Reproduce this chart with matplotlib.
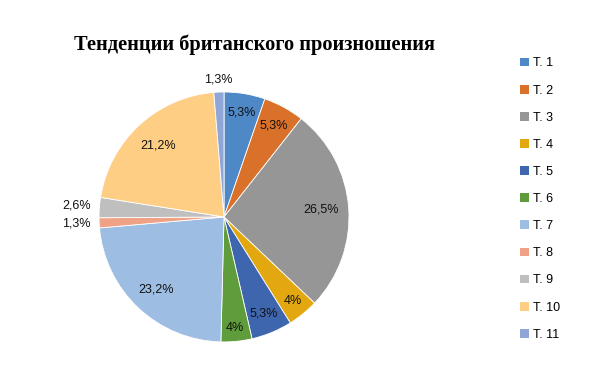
import numpy as np
import matplotlib
matplotlib.use("Agg")
import matplotlib.pyplot as plt
from matplotlib.patches import Patch

title = "Тенденции британского произношения"
labels = ["T. 1", "T. 2", "T. 3", "T. 4", "T. 5", "T. 6", "T. 7", "T. 8", "T. 9", "T. 10", "T. 11"]
shares = [5.3, 5.3, 26.5, 4, 5.3, 4, 23.2, 1.3, 2.6, 21.2, 1.3]
pct_text = ["5,3%", "5,3%", "26,5%", "4%", "5,3%", "4%", "23,2%", "1,3%", "2,6%", "21,2%", "1,3%"]

colors = ["#4F88C6", "#D9712B", "#969696", "#E3A80F", "#3D66AF", "#5E9C3C",
          "#9DBDE3", "#EFA285", "#BFBFBF", "#FFCE85", "#8FA6D6"]
# how far out each label sits (fraction of radius)
label_r = [0.85, 0.83, 0.78, 0.87, 0.84, 0.89, 0.80, 1.18, 1.18, 0.78, 1.10]

fig = plt.figure(figsize=(6, 3.77), dpi=100)
ax = fig.add_axes([0.165, 0.093, 0.4167, 0.663])
wedges, _ = ax.pie(shares, colors=colors, startangle=90, counterclock=False,
                   wedgeprops=dict(edgecolor="white", linewidth=0.6))
ax.set_aspect("equal")
ax.set_xlim(-1, 1); ax.set_ylim(-1, 1)

for w, t, r in zip(wedges, pct_text, label_r):
    ang = np.deg2rad((w.theta1 + w.theta2) / 2)
    ax.text(r * np.cos(ang), r * np.sin(ang), t, ha="center", va="center",
            fontsize=9, family="Liberation Sans", color="#111111")

fig.text(0.425, 0.88, title, ha="center", va="center", fontsize=14.7,
         fontweight="bold", family="Liberation Serif")

handles = [Patch(facecolor=c, edgecolor="none") for c in colors]
fig.legend(handles, labels, loc="upper left", bbox_to_anchor=(0.859, 0.861),
           frameon=False, handlelength=0.7, handleheight=0.7,
           handletextpad=0.3, labelspacing=1.21, borderaxespad=0,
           prop={"family": "Liberation Sans", "size": 9})

fig.savefig("out.png", dpi=100)
